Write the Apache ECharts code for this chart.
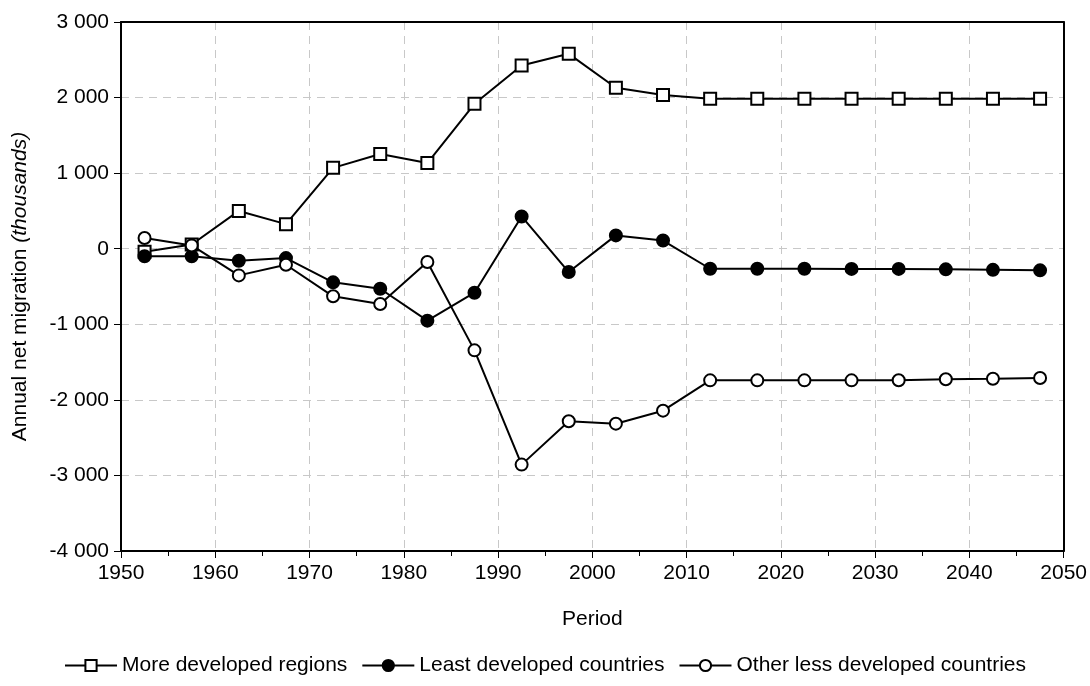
<!DOCTYPE html>
<html>
<head>
<meta charset="utf-8">
<script src="https://cdn.jsdelivr.net/npm/echarts@6/dist/echarts.min.js"></script>
<style>
  html, body { margin: 0; padding: 0; background: #fff; }
  #main { width: 1090px; height: 686px; }
</style>
</head>
<body>
<div id="main"></div>
<script>
var periods = [1952.5, 1957.5, 1962.5, 1967.5, 1972.5, 1977.5, 1982.5, 1987.5, 1992.5, 1997.5,
               2002.5, 2007.5, 2012.5, 2017.5, 2022.5, 2027.5, 2032.5, 2037.5, 2042.5, 2047.5];
var moreDeveloped = [-40, 55, 500, 325, 1070, 1253, 1134, 1918, 2425, 2579,
                     2130, 2035, 1984, 1984, 1984, 1984, 1984, 1984, 1984, 1984];
var leastDeveloped = [-100, -100, -159, -124, -445, -530, -952, -582, 427, -309,
                      176, 108, -265, -265, -265, -267, -267, -273, -280, -286];
var otherLessDeveloped = [141, 44, -353, -212, -630, -732, -176, -1345, -2857, -2284,
                          -2315, -2143, -1742, -1742, -1742, -1742, -1740, -1728, -1720, -1711];
var seriesNames = ['More developed regions', 'Least developed countries', 'Other less developed countries'];

function pairs(vals) {
    return periods.map(function (p, i) { return [p, vals[i]]; });
}
function thousands(v) {
    return String(v).replace(/\B(?=(\d{3})+(?!\d))/g, ' ');
}

var font = '"Liberation Sans", Arial, Helvetica, sans-serif';
var fs = 21;
var myChart = echarts.init(document.getElementById('main'));

function lineSeries(name, vals, symbol, fill, size) {
    return {
        name: name,
        type: 'line',
        data: pairs(vals),
        symbol: symbol,
        symbolSize: size,
        showAllSymbol: true,
        lineStyle: { color: '#000', width: 2 },
        itemStyle: { color: fill, borderColor: '#000', borderWidth: 2 },
        emphasis: { disabled: true },
        animation: false
    };
}

var gridLine = { show: true, lineStyle: { color: '#c8c8c8', type: [8, 6], width: 1 } };
var frameLine = { show: true, onZero: false, lineStyle: { color: '#000', width: 2 } };

myChart.setOption({
    backgroundColor: '#fff',
    textStyle: { fontFamily: font },
    grid: { left: 121, right: 26, top: 22, bottom: 135 },
    legend: {
        data: seriesNames,
        left: 'center',
        top: 650,
        itemWidth: 52,
        itemHeight: 14,
        itemGap: 14,
        textStyle: { fontSize: fs, color: '#000', fontFamily: font }
    },
    xAxis: [{
        type: 'value',
        min: 1950, max: 2050, interval: 10,
        name: 'Period',
        nameLocation: 'middle',
        nameGap: 58,
        nameTextStyle: { fontSize: fs, color: '#000', fontFamily: font },
        axisLine: frameLine,
        axisTick: { length: 7, lineStyle: { color: '#000', width: 1 } },
        minorTick: { show: true, splitNumber: 2, length: 5, lineStyle: { color: '#000', width: 1 } },
        axisLabel: { fontSize: fs, color: '#000', margin: 12, fontFamily: font,
                     formatter: function (v) { return String(v); } },
        splitLine: gridLine
    }, {
        type: 'value', position: 'top',
        min: 1950, max: 2050, interval: 10,
        axisLine: frameLine, axisTick: { show: false }, axisLabel: { show: false },
        splitLine: { show: false }
    }],
    yAxis: [{
        type: 'value',
        min: -4000, max: 3000, interval: 1000,
        name: '{a|Annual net migration} {b|(thousands)}',
        nameLocation: 'middle',
        nameGap: 90,
        nameTextStyle: {
            fontSize: fs, color: '#000', fontFamily: font,
            rich: {
                a: { fontSize: fs, color: '#000', fontFamily: font },
                b: { fontSize: fs, color: '#000', fontStyle: 'italic', fontFamily: font }
            }
        },
        axisLine: frameLine,
        axisTick: { show: true, length: 7, lineStyle: { color: '#000', width: 1 } },
        axisLabel: { fontSize: fs, color: '#000', margin: 12, fontFamily: font, formatter: thousands },
        splitLine: gridLine
    }, {
        type: 'value', position: 'right',
        min: -4000, max: 3000, interval: 1000,
        axisLine: frameLine, axisTick: { show: false }, axisLabel: { show: false },
        splitLine: { show: false }
    }],
    series: [
        lineSeries(seriesNames[0], moreDeveloped, 'rect', '#fff', 12),
        lineSeries(seriesNames[1], leastDeveloped, 'circle', '#000', 12),
        lineSeries(seriesNames[2], otherLessDeveloped, 'circle', '#fff', 12)
    ]
});
</script>
</body>
</html>
